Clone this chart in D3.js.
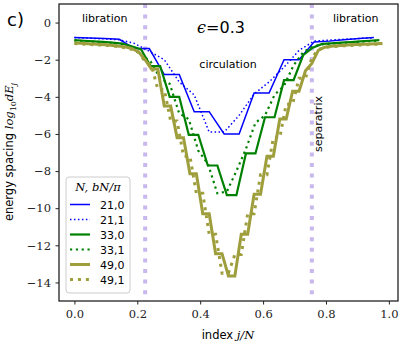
<!DOCTYPE html>
<html><head><meta charset="utf-8">
<script src="https://cdn.jsdelivr.net/npm/d3@7"></script>
<style>body{margin:0;background:#fff}svg{display:block}</style>
</head><body>
<svg id="c" width="402" height="354"></svg>
<script>
// ---- data ----
const sizes = [21, 21, 33, 33, 49, 49];
const labels = ["21,0", "21,1", "33,0", "33,1", "49,0", "49,1"];
const blue0 = [-0.80,-0.83,-0.86,-0.90,-1.40,-1.40,-2.80,-2.80,-4.80,-4.80,-6.00,-6.00,-3.80,-3.80,-2.00,-2.00,-1.05,-1.00,-0.92,-0.86,-0.80];
const blue1 = [-0.81,-0.84,-0.88,-0.93,-1.12,-1.55,-2.00,-3.20,-3.90,-5.90,-5.90,-5.00,-3.85,-3.20,-2.40,-1.50,-1.00,-0.95,-0.90,-0.86,-0.82];
const green0 = [-0.95,-0.98,-1.01,-1.04,-1.08,-1.13,-1.28,-1.45,-2.35,-2.35,-4.0,-4.0,-6.05,-6.05,-7.7,-7.7,-9.3,-9.3,-7.05,-7.05,-5.1,-5.1,-3.1,-3.1,-1.76,-1.35,-1.15,-1.12,-1.08,-1.05,-1.01,-0.98,-0.95];
const green1 = [-0.97,-1.0,-1.03,-1.06,-1.1,-1.15,-1.32,-1.75,-2.1,-3.0,-3.3,-4.9,-5.2,-6.9,-7.6,-9.2,-9.1,-8.0,-6.8,-5.4,-5.0,-3.9,-3.4,-2.3,-1.6,-1.3,-1.17,-1.13,-1.1,-1.07,-1.03,-1.0,-0.97];
const olive0 = [-1.10,-1.12,-1.14,-1.16,-1.18,-1.20,-1.23,-1.27,-1.32,-1.40,-1.58,-2.0,-2.5,-2.5,-4.5,-4.5,-6.2,-6.2,-8.15,-8.15,-10.3,-10.3,-12.45,-12.45,-13.65,-13.65,-11.4,-11.4,-9.25,-9.25,-7.2,-7.2,-5.2,-5.2,-3.7,-3.7,-2.6,-2.2,-1.5,-1.33,-1.28,-1.25,-1.22,-1.2,-1.18,-1.17,-1.15,-1.14,-1.13];
const olive1 = [-1.13,-1.15,-1.17,-1.19,-1.21,-1.23,-1.26,-1.3,-1.36,-1.45,-1.6,-2.1,-2.3,-3.6,-3.6,-5.3,-5.3,-7.2,-7.2,-9.2,-9.2,-11.4,-11.4,-13.5,-13.5,-12.5,-12.5,-10.3,-10.3,-8.2,-8.2,-6.2,-6.2,-4.4,-4.4,-3.0,-3.0,-1.9,-1.45,-1.35,-1.3,-1.27,-1.25,-1.23,-1.21,-1.2,-1.18,-1.17,-1.16];
const seriesValues = [blue0, blue1, green0, green1, olive0, olive1];
const separatrix = [0.225, 0.755];
const xTicks = [0.0, 0.2, 0.4, 0.6, 0.8, 1.0];
const yTicks = [0, -2, -4, -6, -8, -10, -12, -14];

// ---- styles ----
const colors = ["#0000ff", "#0000ff", "#008000", "#008000", "#9e9e3c", "#9e9e3c"];
const widths = [1.5, 1.5, 2.2, 2.2, 3, 3];
const dotted = [false, true, false, true, false, true];
const SANS = "DejaVu Sans", SERIF = "DejaVu Serif";

const svg = d3.select("#c");
const L = 59, R = 398, T = 4, B = 301;
const x = d3.scaleLinear().domain([-0.049, 1.029]).range([L, R]);
const y = d3.scaleLinear().domain([1, -15]).range([T, B]);

// separatrix lines
svg.selectAll("line.sep").data(separatrix).enter().append("line")
  .attr("x1", d => x(d)).attr("x2", d => x(d)).attr("y1", T).attr("y2", B)
  .attr("stroke", "#c8b8ee").attr("stroke-width", 4).attr("stroke-dasharray", "4,6.6");

// series
const line = d3.line();
seriesValues.forEach((vals, k) => {
  const N = sizes[k];
  const pts = vals.map((v, j) => [x(j / N), y(v)]);
  svg.append("path").attr("d", line(pts)).attr("fill", "none")
    .attr("stroke", colors[k]).attr("stroke-width", widths[k])
    .attr("stroke-linejoin", "miter")
    .attr("stroke-dasharray", dotted[k] ? `${widths[k]},${(widths[k] * 1.65).toFixed(2)}` : null);
});

// axes
const xa = svg.append("g").attr("transform", `translate(0,${B})`)
  .call(d3.axisBottom(x).tickValues(xTicks).tickFormat(d3.format(".1f")).tickSize(3.5).tickSizeOuter(0));
xa.select(".domain").remove();
xa.selectAll("text").attr("y", 9).attr("font-family", SERIF).attr("font-size", 11.5).attr("fill", "#222");
const ya = svg.append("g").attr("transform", `translate(${L},0)`)
  .call(d3.axisLeft(y).tickValues(yTicks).tickFormat(d3.format("d")).tickSize(3.5).tickSizeOuter(0));
ya.select(".domain").remove();
ya.selectAll("text").attr("x", -8).attr("font-family", SERIF).attr("font-size", 11.5).attr("fill", "#222");
svg.selectAll(".tick line").attr("stroke", "#222").attr("stroke-width", 1);

// frame
svg.append("rect").attr("x", L).attr("y", T).attr("width", R - L).attr("height", B - T)
  .attr("fill", "none").attr("stroke", "#222").attr("stroke-width", 1.3);

// texts
svg.append("text").attr("x", 7).attr("y", 26).attr("font-family", SANS).attr("font-size", 18).text("c)");
const eps = svg.append("text").attr("x", 221).attr("y", 33).attr("text-anchor", "middle").attr("font-size", 16);
eps.append("tspan").attr("font-family", SERIF).attr("font-style", "italic").text("ϵ");
eps.append("tspan").attr("font-family", SANS).text("=0.3");
svg.append("text").attr("x", 82).attr("y", 22).attr("font-family", SANS).attr("font-size", 11).text("libration");
svg.append("text").attr("x", 333).attr("y", 22).attr("font-family", SANS).attr("font-size", 11).text("libration");
svg.append("text").attr("x", 228).attr("y", 68).attr("text-anchor", "middle").attr("font-family", SANS).attr("font-size", 11).text("circulation");
svg.append("text").attr("transform", "translate(322,124) rotate(-90)").attr("text-anchor", "middle")
  .attr("font-family", SANS).attr("font-size", 11).text("separatrix");

// axis labels
const xl = svg.append("text").attr("x", 228).attr("y", 339).attr("text-anchor", "middle").attr("font-size", 11.5);
xl.append("tspan").attr("font-family", SANS).text("index ");
xl.append("tspan").attr("font-family", SERIF).attr("font-style", "italic").text("j/N");
const yl = svg.append("text").attr("transform", "translate(13,152) rotate(-90)").attr("text-anchor", "middle").attr("font-size", 11.5);
yl.append("tspan").attr("font-family", SANS).text("energy spacing ");
yl.append("tspan").attr("font-family", SERIF).attr("font-style", "italic").text("log");
yl.append("tspan").attr("font-family", SERIF).attr("font-size", 8).attr("dy", 3).text("10");
yl.append("tspan").attr("font-family", SERIF).attr("font-style", "italic").attr("dy", -3).text("dE");
yl.append("tspan").attr("font-family", SERIF).attr("font-style", "italic").attr("font-size", 8).attr("dy", 3).text("j");

// legend
const lg = svg.append("g");
lg.append("rect").attr("x", 66).attr("y", 177).attr("width", 64).attr("height", 116).attr("rx", 3)
  .attr("fill", "#fff").attr("fill-opacity", 0.8).attr("stroke", "#cccccc").attr("stroke-width", 1);
lg.append("text").attr("x", 98).attr("y", 191).attr("text-anchor", "middle").attr("font-family", SERIF)
  .attr("font-style", "italic").attr("font-size", 11.5).text("N, bN/π");
labels.forEach((lab, k) => {
  const yy = 204.5 + 15 * k;
  lg.append("line").attr("x1", 70).attr("x2", 90).attr("y1", yy).attr("y2", yy)
    .attr("stroke", colors[k]).attr("stroke-width", widths[k])
    .attr("stroke-dasharray", dotted[k] ? `${widths[k]},${(widths[k] * 1.65).toFixed(2)}` : null);
  lg.append("text").attr("x", 100).attr("y", yy + 4).attr("font-family", SANS).attr("font-size", 11).text(lab);
});
</script>
</body></html>
